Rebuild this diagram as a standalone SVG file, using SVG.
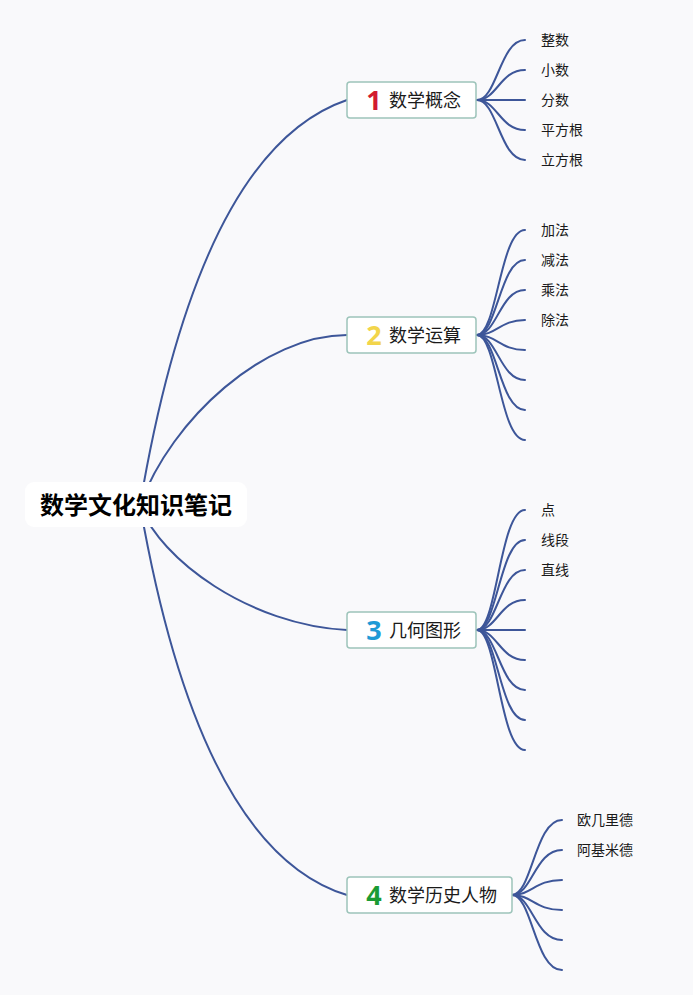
<svg xmlns="http://www.w3.org/2000/svg" width="693" height="995" viewBox="0 0 693 995">
<style>
.ln{fill:none;stroke:#3d5699;stroke-width:2;stroke-linecap:round}
.box{fill:#ffffff;stroke:#9dc4ba;stroke-width:1.5}
.t{font-family:"Noto Sans CJK SC","Noto Sans",sans-serif;fill:#1a1a1a}
.leaf{font-size:14px}
.main{font-size:18px}
.num{font-family:"Noto Sans","Liberation Sans",sans-serif;font-weight:bold;font-size:27px;text-anchor:middle}
.root{font-size:24px;font-weight:bold;text-anchor:middle;fill:#000}
</style>
<rect x="0" y="0" width="693" height="995" fill="#f9f9fb"/>
<g id="connectors">
<path class="ln" d="M140,505 Q200,150 347,100"/>
<path class="ln" d="M140,505 C172,418 265,335 347,335"/>
<path class="ln" d="M140,505 C160,560 250,625 347,630"/>
<path class="ln" d="M140,505 Q200,850 347,895"/>
<path class="ln" d="M477,100 C497,100 500,40 525,40"/>
<path class="ln" d="M477,100 C497,100 500,70 525,70"/>
<path class="ln" d="M477,100 L525,100"/>
<path class="ln" d="M477,100 C497,100 500,130 525,130"/>
<path class="ln" d="M477,100 C497,100 500,160 525,160"/>
<path class="ln" d="M477,335 C497,335 500,230 525,230"/>
<path class="ln" d="M477,335 C497,335 500,260 525,260"/>
<path class="ln" d="M477,335 C497,335 500,290 525,290"/>
<path class="ln" d="M477,335 C497,335 500,320 525,320"/>
<path class="ln" d="M477,335 C497,335 500,350 525,350"/>
<path class="ln" d="M477,335 C497,335 500,380 525,380"/>
<path class="ln" d="M477,335 C497,335 500,410 525,410"/>
<path class="ln" d="M477,335 C497,335 500,440 525,440"/>
<path class="ln" d="M477,630 C497,630 500,510 525,510"/>
<path class="ln" d="M477,630 C497,630 500,540 525,540"/>
<path class="ln" d="M477,630 C497,630 500,570 525,570"/>
<path class="ln" d="M477,630 C497,630 500,600 525,600"/>
<path class="ln" d="M477,630 L525,630"/>
<path class="ln" d="M477,630 C497,630 500,660 525,660"/>
<path class="ln" d="M477,630 C497,630 500,690 525,690"/>
<path class="ln" d="M477,630 C497,630 500,720 525,720"/>
<path class="ln" d="M477,630 C497,630 500,750 525,750"/>
<path class="ln" d="M512,895 C532,895 535,820 562,820"/>
<path class="ln" d="M512,895 C532,895 535,850 562,850"/>
<path class="ln" d="M512,895 C532,895 535,880 562,880"/>
<path class="ln" d="M512,895 C532,895 535,910 562,910"/>
<path class="ln" d="M512,895 C532,895 535,940 562,940"/>
<path class="ln" d="M512,895 C532,895 535,970 562,970"/>
</g>
<g id="root">
<rect x="25" y="482" width="222" height="45" rx="9" fill="#ffffff"/>
<text class="t root" x="136" y="514">数学文化知识笔记</text>
</g>
<g id="topic1">
<rect class="box" x="347" y="82" width="129" height="36" rx="3"/>
<text class="num" x="374" y="110" fill="#d21b2f">1</text>
<text class="t main" x="389" y="107">数学概念</text>
</g>
<g id="topic2">
<rect class="box" x="347" y="317" width="129" height="36" rx="3"/>
<text class="num" x="374" y="345" fill="#f2d54b">2</text>
<text class="t main" x="389" y="342">数学运算</text>
</g>
<g id="topic3">
<rect class="box" x="347" y="612" width="129" height="36" rx="3"/>
<text class="num" x="374" y="640" fill="#1e9ad6">3</text>
<text class="t main" x="389" y="637">几何图形</text>
</g>
<g id="topic4">
<rect class="box" x="347" y="877" width="165" height="36" rx="3"/>
<text class="num" x="374" y="905" fill="#1a9b34">4</text>
<text class="t main" x="389" y="902">数学历史人物</text>
</g>
<g id="leaves1">
<text class="t leaf" x="541" y="45">整数</text>
<text class="t leaf" x="541" y="75">小数</text>
<text class="t leaf" x="541" y="105">分数</text>
<text class="t leaf" x="541" y="135">平方根</text>
<text class="t leaf" x="541" y="165">立方根</text>
</g>
<g id="leaves2">
<text class="t leaf" x="541" y="235">加法</text>
<text class="t leaf" x="541" y="265">减法</text>
<text class="t leaf" x="541" y="295">乘法</text>
<text class="t leaf" x="541" y="325">除法</text>
</g>
<g id="leaves3">
<text class="t leaf" x="541" y="515">点</text>
<text class="t leaf" x="541" y="545">线段</text>
<text class="t leaf" x="541" y="575">直线</text>
</g>
<g id="leaves4">
<text class="t leaf" x="577" y="825">欧几里德</text>
<text class="t leaf" x="577" y="855">阿基米德</text>
</g>
</svg>
